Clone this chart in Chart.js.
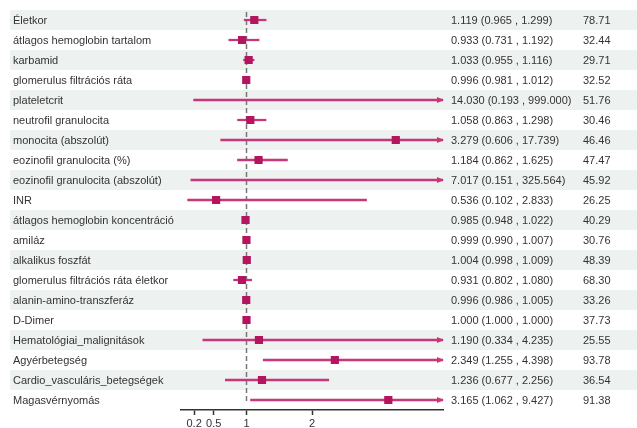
<!DOCTYPE html>
<html>
<head>
<meta charset="utf-8">
<script src="https://cdn.jsdelivr.net/npm/chart.js@4"></script>
<style>
  html, body { margin: 0; padding: 0; background: #ffffff; }
  #wrap { width: 637px; height: 428px; position: relative; }
</style>
</head>
<body>
<div id="wrap"><canvas id="c"></canvas></div>
<script>
// Variables of the model, top to bottom
const labels = [
  'Életkor',
  'átlagos hemoglobin tartalom',
  'karbamid',
  'glomerulus filtrációs ráta',
  'plateletcrit',
  'neutrofil granulocita',
  'monocita (abszolút)',
  'eozinofil granulocita (%)',
  'eozinofil granulocita (abszolút)',
  'INR',
  'átlagos hemoglobin koncentráció',
  'amiláz',
  'alkalikus foszfát',
  'glomerulus filtrációs ráta életkor',
  'alanin-amino-transzferáz',
  'D-Dimer',
  'Hematológiai_malignitások',
  'Agyérbetegség',
  'Cardio_vasculáris_betegségek',
  'Magasvérnyomás'
];
// Point estimates and 95% confidence bounds
const estimate = [1.119, 0.933, 1.033, 0.996, 14.030, 1.058, 3.279, 1.184, 7.017, 0.536,
                  0.985, 0.999, 1.004, 0.931, 0.996, 1.000, 1.190, 2.349, 1.236, 3.165];
const lower    = [0.965, 0.731, 0.955, 0.981, 0.193, 0.863, 0.606, 0.862, 0.151, 0.102,
                  0.948, 0.990, 0.998, 0.802, 0.986, 1.000, 0.334, 1.255, 0.677, 1.062];
const upper    = [1.299, 1.192, 1.116, 1.012, 999.000, 1.298, 17.739, 1.625, 325.564, 2.833,
                  1.022, 1.007, 1.009, 1.080, 1.005, 1.000, 4.235, 4.398, 2.256, 9.427];
// Right-hand column values
const weight   = [78.71, 32.44, 29.71, 32.52, 51.76, 30.46, 46.46, 47.47, 45.92, 26.25,
                  40.29, 30.76, 48.39, 68.30, 33.26, 37.73, 25.55, 93.78, 36.54, 91.38];
// Axis ticks and range
const xTicks = [0.2, 0.5, 1, 2];
const xMin = 0;
const xMax = 4;
const refLine = 1;

const FONT = '11px "Liberation Sans", Arial, sans-serif';
const TEXT_COLOR = '#333333';
const LINE_COLOR = '#c7357a';
const BOX_COLOR = '#b3165e';
const BAND_COLOR = '#edf1f0';

const ciData = labels.map((l, i) => ({ y: l, x: [lower[i], Math.min(upper[i], xMax)] }));
const pointData = labels.map((l, i) => ({ y: l, x: estimate[i] }));

const forestPlugin = {
  id: 'forest',
  beforeDraw(chart) {
    const ctx = chart.ctx;
    const ys = chart.scales.y;
    const h = ys.getPixelForValue(1) - ys.getPixelForValue(0);
    ctx.save();
    ctx.fillStyle = BAND_COLOR;
    labels.forEach((l, i) => {
      if (i % 2 === 0) {
        const yc = ys.getPixelForValue(i);
        ctx.fillRect(10, yc - h / 2, chart.width - 10, h);
      }
    });
    ctx.restore();
  },
  beforeDatasetsDraw(chart) {
    const ctx = chart.ctx;
    const xs = chart.scales.x;
    const area = chart.chartArea;
    const x1 = xs.getPixelForValue(refLine);
    ctx.save();
    ctx.strokeStyle = '#777777';
    ctx.lineWidth = 1.5;
    ctx.setLineDash([5, 3]);
    ctx.beginPath();
    ctx.moveTo(x1, area.top + 2);
    ctx.lineTo(x1, area.bottom - 6);
    ctx.stroke();
    ctx.restore();
  },
  afterDatasetsDraw(chart) {
    const ctx = chart.ctx;
    const xs = chart.scales.x;
    const ys = chart.scales.y;
    const xe = xs.getPixelForValue(xMax);
    ctx.save();
    ctx.fillStyle = LINE_COLOR;
    labels.forEach((l, i) => {
      if (upper[i] > xMax) {
        const yc = ys.getPixelForValue(i);
        ctx.beginPath();
        ctx.moveTo(xe + 1, yc);
        ctx.lineTo(xe - 6, yc - 3);
        ctx.lineTo(xe - 6, yc + 3);
        ctx.closePath();
        ctx.fill();
      }
    });
    ctx.restore();
  },
  afterDraw(chart) {
    const ctx = chart.ctx;
    const ys = chart.scales.y;
    ctx.save();
    ctx.font = FONT;
    ctx.fillStyle = TEXT_COLOR;
    ctx.textBaseline = 'middle';
    ctx.textAlign = 'left';
    labels.forEach((l, i) => {
      const yc = ys.getPixelForValue(i) + 0.5;
      ctx.fillText(l, 13, yc);
      const txt = estimate[i].toFixed(3) + ' (' + lower[i].toFixed(3) + ' , ' + upper[i].toFixed(3) + ')';
      ctx.fillText(txt, 451, yc);
      ctx.fillText(weight[i].toFixed(2), 583, yc);
    });
    ctx.restore();
  }
};

new Chart(document.getElementById('c'), {
  type: 'bar',
  data: {
    labels: labels,
    datasets: [
      {
        type: 'bar',
        data: ciData,
        backgroundColor: LINE_COLOR,
        borderWidth: 0,
        barThickness: 1.6,
        grouped: false,
        order: 2
      },
      {
        type: 'scatter',
        data: pointData,
        pointStyle: 'rect',
        pointRadius: 5.8,
        pointHoverRadius: 5.8,
        backgroundColor: BOX_COLOR,
        borderColor: BOX_COLOR,
        borderWidth: 0,
        order: 1
      }
    ]
  },
  options: {
    indexAxis: 'y',
    responsive: true,
    maintainAspectRatio: false,
    animation: false,
    layout: { padding: { left: 181, right: 194, top: 10, bottom: 0 } },
    plugins: { legend: { display: false }, tooltip: { enabled: false } },
    scales: {
      y: {
        type: 'category',
        labels: labels,
        offset: true,
        display: false
      },
      x: {
        type: 'linear',
        min: xMin,
        max: xMax,
        afterBuildTicks(scale) { scale.ticks = xTicks.map(v => ({ value: v })); },
        afterFit(scale) { scale.height = 18; },
        grid: { drawOnChartArea: false, drawTicks: true, tickLength: 5, tickWidth: 1.5, tickColor: '#333333' },
        border: { display: true, color: '#333333', width: 1.5 },
        ticks: {
          autoSkip: false,
          maxRotation: 0,
          padding: 2,
          color: '#333333',
          font: { family: '"Liberation Sans", Arial, sans-serif', size: 11 },
          callback: (v) => String(v)
        }
      }
    }
  },
  plugins: [forestPlugin]
});
</script>
</body>
</html>
